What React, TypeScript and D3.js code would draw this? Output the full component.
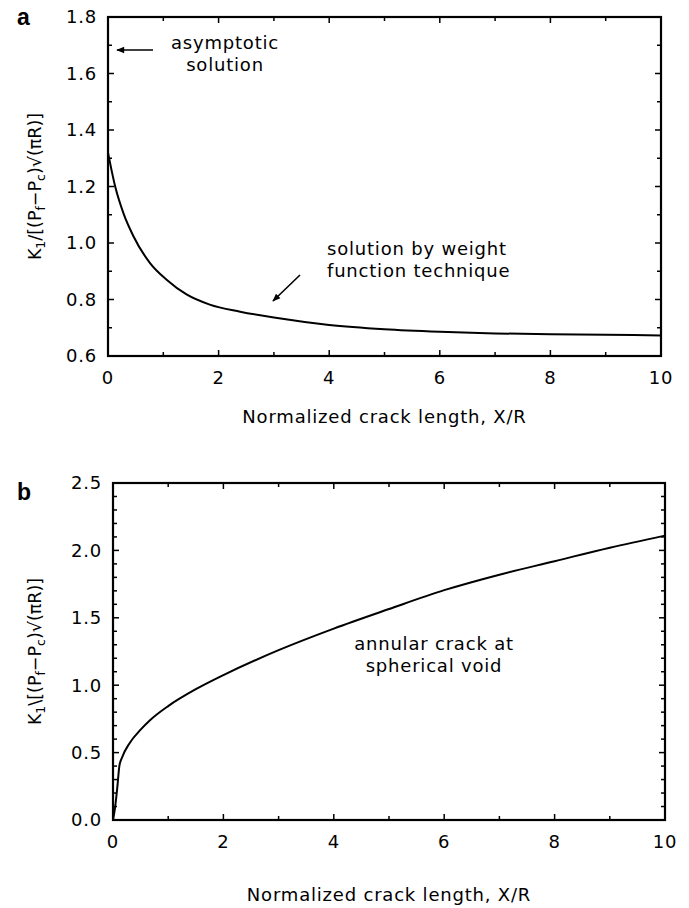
import React from "react";
import * as d3 from "d3";

// Panel a: solution by weight function technique
const aX = [0, 0.13, 0.28, 0.46, 0.76, 1.06, 1.42, 1.84, 2.39, 3, 4, 5, 6, 7, 8, 9, 10];
const aY = [1.32, 1.2, 1.105, 1.024, 0.929, 0.87, 0.818, 0.782, 0.757, 0.736, 0.71, 0.695, 0.686, 0.68, 0.677, 0.675, 0.673];

// Panel b: annular crack at spherical void
const bX = [0, 0.04, 0.08, 0.115, 0.16, 0.3, 0.5, 0.67, 1, 1.5, 2, 3, 4, 5, 6, 7, 8, 9, 10];
const bY = [0, 0.1, 0.25, 0.4, 0.46, 0.57, 0.67, 0.74, 0.845, 0.97, 1.075, 1.26, 1.42, 1.565, 1.705, 1.82, 1.92, 2.02, 2.11];

const xTicks = [0, 2, 4, 6, 8, 10];
const aYTicks = [0.6, 0.8, 1.0, 1.2, 1.4, 1.6, 1.8];
const bYTicks = [0, 0.5, 1.0, 1.5, 2.0, 2.5];

const FONT = "'DejaVu Sans', sans-serif";
const FS = 18;
const LS = 0.8;

type PanelProps = {
  left: number; right: number; top: number; bottom: number;
  yDomain: [number, number]; yTicks: number[]; yMinorStep: number;
  xs: number[]; ys: number[]; slash: string; letter: string; xTitleY: number;
  children?: React.ReactNode;
};

function Panel(p: PanelProps) {
  const x = d3.scaleLinear().domain([0, 10]).range([p.left, p.right]);
  const y = d3.scaleLinear().domain(p.yDomain).range([p.bottom, p.top]);
  const line = d3.line<number>().x((_, i) => x(p.xs[i])).y((d) => y(d)).curve(d3.curveMonotoneX);
  const xMinor = d3.range(0, 10.001, 1);
  const nY = Math.round((p.yDomain[1] - p.yDomain[0]) / p.yMinorStep);
  const yMinor = d3.range(0, nY + 1).map((i) => p.yDomain[0] + i * p.yMinorStep);
  const isMajorX = (v: number) => xTicks.some((t) => Math.abs(t - v) < 1e-6);
  const isMajorY = (v: number) => p.yTicks.some((t) => Math.abs(t - v) < 1e-6);
  const cy = (p.top + p.bottom) / 2;
  const cx = (p.left + p.right) / 2;
  return (
    <g>
      {xMinor.map((v) => {
        const L = isMajorX(v) ? 6 : 4;
        return (
          <g key={"xt" + v}>
            <line x1={x(v)} x2={x(v)} y1={p.bottom} y2={p.bottom - L} stroke="#000" strokeWidth={1.5} />
            <line x1={x(v)} x2={x(v)} y1={p.top} y2={p.top + L} stroke="#000" strokeWidth={1.5} />
          </g>
        );
      })}
      {yMinor.map((v) => {
        const L = isMajorY(v) ? 6 : 4;
        return (
          <g key={"yt" + v}>
            <line x1={p.left} x2={p.left + L} y1={y(v)} y2={y(v)} stroke="#000" strokeWidth={1.5} />
            <line x1={p.right} x2={p.right - L} y1={y(v)} y2={y(v)} stroke="#000" strokeWidth={1.5} />
          </g>
        );
      })}
      <rect x={p.left} y={p.top} width={p.right - p.left} height={p.bottom - p.top} fill="none" stroke="#000" strokeWidth={2.2} />
      {xTicks.map((v) => (
        <text key={"xl" + v} x={x(v)} y={p.bottom + 28} textAnchor="middle" fontSize={FS} letterSpacing={LS} fontFamily={FONT}>{v}</text>
      ))}
      {p.yTicks.map((v) => (
        <text key={"yl" + v} x={p.left - 11} y={y(v)} dy="0.36em" textAnchor="end" fontSize={FS} letterSpacing={LS} fontFamily={FONT}>{v.toFixed(1)}</text>
      ))}
      <path d={line(p.ys) || ""} fill="none" stroke="#000" strokeWidth={2} />
      <text x={cx} y={p.xTitleY} textAnchor="middle" fontSize={FS} letterSpacing={LS} fontFamily={FONT}>Normalized crack length, X/R</text>
      <text transform={`translate(41,${cy}) rotate(-90)`} textAnchor="middle" fontSize={17.5} fontFamily={FONT}>
        K<tspan fontSize={12.5} dy={4}>1</tspan>
        <tspan dy={-4}>{p.slash}[(P</tspan>
        <tspan fontSize={12.5} dy={4}>f</tspan>
        <tspan dy={-4}>−P</tspan>
        <tspan fontSize={12.5} dy={4}>c</tspan>
        <tspan dy={-4}>)√(πR)]</tspan>
      </text>
      <text x={17} y={p.top + (p.letter === "a" ? 8 : 17)} fontSize={23} fontWeight="bold" fontFamily="'Liberation Sans', Arial, sans-serif">{p.letter}</text>
      {p.children}
    </g>
  );
}

export default function App() {
  return (
    <svg width={689} height={908} style={{ position: "absolute", left: 0, top: 0, background: "#fff" }}>
      <defs>
        <marker id="ah" viewBox="0 0 10 10" refX={9} refY={5} markerWidth={9} markerHeight={8} orient="auto-start-reverse" markerUnits="userSpaceOnUse">
          <path d="M0,1 L10,5 L0,9 Z" fill="#000" />
        </marker>
      </defs>
      <Panel left={108} right={661} top={17} bottom={356} yDomain={[0.6, 1.8]} yTicks={aYTicks} yMinorStep={0.1}
        xs={aX} ys={aY} slash="/" letter="a" xTitleY={423}>
        <g fontFamily={FONT} fontSize={FS} letterSpacing={LS}>
          <line x1={153} y1={50} x2={117} y2={50} stroke="#000" strokeWidth={1.6} markerEnd="url(#ah)" />
          <text x={225} y={49} textAnchor="middle">asymptotic</text>
          <text x={225} y={71} textAnchor="middle">solution</text>
          <line x1={300} y1={275} x2={273} y2={301} stroke="#000" strokeWidth={1.6} markerEnd="url(#ah)" />
          <text x={327} y={255}>solution by weight</text>
          <text x={327} y={277}>function technique</text>
        </g>
      </Panel>
      <Panel left={113} right={665} top={483} bottom={820} yDomain={[0, 2.5]} yTicks={bYTicks} yMinorStep={0.1}
        xs={bX} ys={bY} slash="\" letter="b" xTitleY={901}>
        <g fontFamily={FONT} fontSize={FS} letterSpacing={LS}>
          <text x={434} y={650} textAnchor="middle">annular crack at</text>
          <text x={434} y={672} textAnchor="middle">spherical void</text>
        </g>
      </Panel>
    </svg>
  );
}
